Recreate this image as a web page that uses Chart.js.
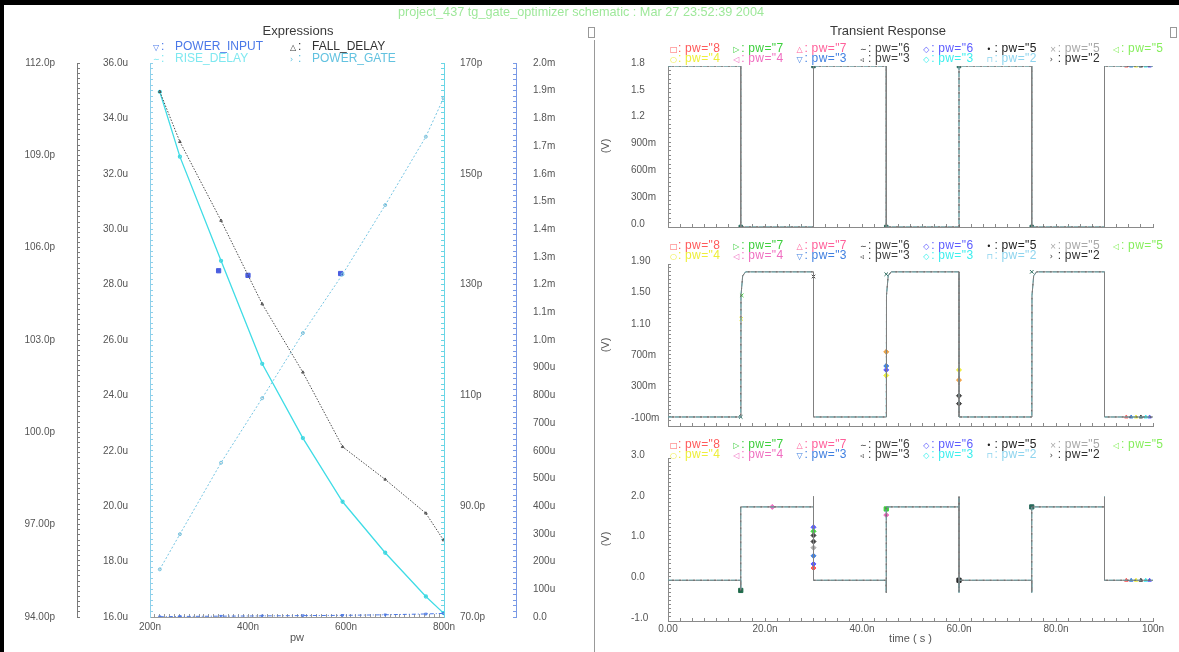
<!DOCTYPE html>
<html>
<head>
<meta charset="utf-8">
<script src="https://cdn.jsdelivr.net/npm/chart.js@4.4.1/dist/chart.umd.min.js"></script>
<style>
  body { margin: 0; width: 1179px; height: 652px; background: #fff; position: relative; overflow: hidden;
         font-family: "Liberation Sans", Arial, sans-serif; }
  canvas { position: absolute; }
  .txt { position: absolute; white-space: nowrap; }
  .ttl { font-size: 13px; color: #3a3a3a; transform: translateX(-50%); }
  .leg { position: absolute; white-space: nowrap; line-height: 12px; }
  .leg span { display: inline-block; }
  .leg .sym { font-family: "DejaVu Sans", sans-serif; font-size: 8px; letter-spacing: 0; }
  .vlab { position: absolute; font-size: 11px; color: #555; transform: translate(-50%, -50%) rotate(-90deg); }
  .bar { position: absolute; background: #000; }
  .line { position: absolute; background: #999; }
  .icon { position: absolute; width: 5px; height: 9px; border: 1px solid #999; }
</style>
</head>
<body>
<canvas id="expr" width="594" height="652" style="left:0;top:0"></canvas>
<canvas id="tranIn" width="584" height="196" style="left:595px;top:40px"></canvas>
<canvas id="tranGate" width="584" height="196" style="left:595px;top:236px"></canvas>
<canvas id="tranOut" width="584" height="220" style="left:595px;top:432px"></canvas>

<div class="bar" style="left:0;top:0;width:1179px;height:5px"></div>
<div class="bar" style="left:0;top:0;width:4px;height:652px"></div>
<div class="line" style="left:594px;top:40px;width:1px;height:612px"></div>
<div class="icon" style="left:588px;top:27px"></div>
<div class="icon" style="left:1170px;top:27px"></div>
<div class="txt" style="left:581px;top:5px;font-size:12.7px;color:#9ee89a;transform:translateX(-50%)">project_437 tg_gate_optimizer schematic : Mar 27 23:52:39 2004</div>
<div class="txt ttl" style="left:298px;top:23px">Expressions</div>
<div class="txt ttl" style="left:888px;top:23px">Transient Response</div>
<div class="vlab" style="left:605px;top:146px">(V)</div>
<div class="vlab" style="left:605px;top:345px">(V)</div>
<div class="vlab" style="left:605px;top:539px">(V)</div>

<script>
// swept pulse width (ns) and the four measured expressions
const pwNs        = [220, 261, 345, 429, 512, 593, 680, 763, 799];
const fallDelayP  = [111.07, 109.44, 106.88, 104.17, 101.95, 99.53, 98.47, 97.37, 96.50];
const riseDelayP  = [164.8, 153.1, 134.3, 115.7, 102.3, 90.8, 81.6, 73.7, 70.7];
const powerGateU  = [17.72, 18.99, 21.57, 23.90, 26.25, 28.37, 30.87, 33.34, 34.73];
const powerInputU = [1, 2, 3, 4, 5, 6, 8, 11, 13];
// cursor readouts: [pw ns, value] on rise, fall and gate traces
const riseCursor = [[340, 132.5]];
const fallCursor = [[400, 105.1]];
const gateCursor = [[589, 28.4]];

// transient waveforms, time in ns and volts
const inTime    = [0, 15, 15, 30, 30, 45, 45, 60, 60, 75, 75, 90, 90, 100];
const inVolts   = [1.8, 1.8, 0, 0, 1.8, 1.8, 0, 0, 1.8, 1.8, 0, 0, 1.8, 1.8];
const gateTime  = [0, 15, 15.05, 15.4, 16, 30, 30, 45, 45.05, 45.4, 46, 60, 60, 75, 75.05, 75.4, 76, 90, 90, 100];
const gateVolts = [-0.05, -0.05, 1.5, 1.75, 1.8, 1.8, -0.05, -0.05, 1.5, 1.75, 1.8, 1.8, -0.05, -0.05, 1.5, 1.75, 1.8, 1.8, -0.05, -0.05];
const outTime   = [0, 15, 15, 15, 30, 30, 30, 45, 45, 45, 60, 60, 60, 60, 75, 75, 75, 90, 90, 90, 100];
const outVolts  = [0, 0, -0.25, 1.8, 1.8, 2.05, 0, 0, -0.3, 1.8, 1.8, 2.05, -0.3, 0, 0, -0.3, 1.8, 1.8, 2.05, 0, 0];

// symbol samples drawn on the waveforms: [ns, V]
const inEdgeMarks   = [[15, 0], [30, 1.8], [45, 0], [60, 1.8], [75, 0]];
const inEndMarks    = [[94.5, 1.8], [95.5, 1.8], [96.5, 1.8], [97.5, 1.8], [98.5, 1.8], [99.3, 1.8]];
const gateEdgeMarks = [[15, -0.05], [30, 1.74], [45, 1.77], [75, 1.8], [15.1, 1.2], [15.2, 1.5]];
const gateMidMarks  = [[45, 0.78], [45, 0.6], [45, 0.55], [45, 0.48], [60, 0.55], [60, 0.42], [60, 0.22], [60, 0.12]];
const gateEndMarks  = [[94.5, -0.05], [95.5, -0.05], [96.5, -0.05], [97.5, -0.05], [98.5, -0.05], [99.3, -0.05]];
const outEdgeMarks  = [[15, -0.25], [45, 1.75], [60, 0], [75, 1.8]];
const outMidMarks   = [[21.5, 1.8], [30, 1.3], [30, 1.2], [30, 1.1], [30, 0.95], [30, 0.8], [30, 0.6], [30, 0.4], [30, 0.3], [45, 1.6]];
const outEndMarks   = [[94.5, 0], [95.5, 0], [96.5, 0], [97.5, 0], [98.5, 0], [99.3, 0]];

// legend texts
const exprNames = ['POWER_INPUT', 'FALL_DELAY', 'RISE_DELAY', 'POWER_GATE'];
const exprSyms  = ['▽', '△', '∼', '›'];
const pwNames   = ['pw="8', 'pw="7', 'pw="7', 'pw="6', 'pw="6', 'pw="5', 'pw="5', 'pw="5',
                   'pw="4', 'pw="4', 'pw="3', 'pw="3', 'pw="3', 'pw="2', 'pw="2'];
const pwSyms    = ['□', '▷', '△', '∼', '◇', '•', '×', '◁', '○', '◁', '▽', '◃', '◇', '⊓', '›'];

const exprColors = ['#4a78e8', '#333333', '#7fe8f0', '#62c2e0'];
const pwColors = ['#ff5a5a', '#3ccf3c', '#ff5f9a', '#404040', '#5c5cff', '#202020', '#a8a8a8', '#86ee5c',
                  '#eeee3a', '#f06cc0', '#3f7fe0', '#404040', '#3ceeee', '#8ed4ee', '#303030'];

function addLegend(x, yc, sym, text, color, size, symW, colonW, spacing) {
  const d = document.createElement('div');
  d.className = 'leg';
  d.style.left = x + 'px';
  d.style.top = (yc - 6) + 'px';
  d.style.color = color;
  d.style.fontSize = size + 'px';
  d.style.letterSpacing = spacing + 'px';
  const s = document.createElement('span');
  s.className = 'sym';
  s.style.width = symW + 'px';
  s.textContent = sym;
  const c = document.createElement('span');
  c.style.width = colonW + 'px';
  c.textContent = ':';
  d.appendChild(s);
  d.appendChild(c);
  d.appendChild(document.createTextNode(text));
  document.body.appendChild(d);
}
exprNames.forEach((n, i) => addLegend(i % 2 ? 290 : 153, i < 2 ? 46 : 58, exprSyms[i], n, exprColors[i], 12, 8, 14, 0));
[48, 245, 444].forEach(y0 => {
  pwNames.forEach((n, i) => {
    const col = i < 8 ? i : i - 8;
    addLegend(670 + col * 63.3, i < 8 ? y0 : y0 + 10, pwSyms[i], n, pwColors[i], 12, 8, 7, 0.4);
  });
});

Chart.defaults.font.family = '"Liberation Sans", Arial, sans-serif';
Chart.defaults.font.size = 10;
Chart.defaults.color = '#555';
Chart.defaults.animation = false;
Chart.defaults.plugins.legend.display = false;
Chart.defaults.plugins.tooltip.enabled = false;
Chart.defaults.elements.point.radius = 0;

const pts = (xs, ys) => xs.map((x, i) => ({ x, y: ys[i] }));
const pairs = arr => arr.map(([x, y]) => ({ x, y }));
const r3 = v => Math.round(v * 1000) / 1000;

// major ticks every `step`, `sub` small ticks in between
function ladder(from, to, step, sub) {
  const out = [];
  const n = Math.round((to - from) / step) * sub;
  for (let i = 0; i <= n; i++) out.push({ value: from + i * step / sub, major: i % sub === 0 });
  return out;
}

function axis(o) {
  return {
    type: 'linear',
    position: o.position,
    weight: o.weight || 0,
    min: o.min,
    max: o.max,
    afterBuildTicks: s => { s.ticks = ladder(o.from ?? o.min, o.to ?? o.max, o.step, o.sub); },
    afterFit: s => { if (s.isHorizontal()) s.height = o.size; else s.width = o.size; },
    grid: { drawOnChartArea: false, tickLength: -3, color: o.color },
    border: { color: o.color, dash: o.dash || [] },
    ticks: {
      display: o.fmt !== undefined,
      autoSkip: false,
      maxRotation: 0,
      padding: o.pad || 0,
      labelOffset: o.lo || 0,
      crossAlign: o.cross || 'near',
      callback: (v, i, t) => (t[i].major && o.fmt ? o.fmt(r3(v)) : '')
    },
    title: o.title
      ? { display: true, text: o.title, font: { size: 11 }, color: '#555', padding: { top: 0, bottom: o.titlePad || 0 } }
      : { display: false }
  };
}

const fmtFall = v => (v < 100 ? v.toFixed(2) : v.toFixed(1)) + 'p';
const fmtRise = v => (v >= 100 ? v.toFixed(0) : v.toFixed(1)) + 'p';
const fmtGate = v => v.toFixed(1) + 'u';
const fmtInput = v => (v >= 1000 ? (v / 1000).toFixed(1) + 'm' : v === 0 ? '0.0' : v.toFixed(0) + 'u');
const fmtVolt = d => v => (v === 0 ? (0).toFixed(d) : Math.abs(v) >= 1 ? v.toFixed(d) : (v * 1000).toFixed(0) + 'm');

new Chart(document.getElementById('expr'), {
  type: 'line',
  data: {
    datasets: [
      { data: pts(pwNs, powerInputU), yAxisID: 'yInput', borderColor: exprColors[0], borderWidth: 1,
        borderDash: [4, 2, 1, 2], pointRadius: 1.5, pointStyle: 'triangle', rotation: 180, pointBorderColor: exprColors[0] },
      { data: pts(pwNs, fallDelayP), yAxisID: 'yFall', borderColor: '#4a4a4a', borderWidth: 1,
        borderDash: [1.5, 1.5], pointRadius: 1.5, pointStyle: 'triangle', pointBorderColor: '#4a4a4a' },
      { data: pts(pwNs, riseDelayP), yAxisID: 'yRise', borderColor: '#3fdce6', borderWidth: 1.3,
        pointRadius: 1.5, pointBorderColor: '#3fdce6' },
      { data: pts(pwNs, powerGateU), yAxisID: 'yGate', borderColor: '#74c4e2', borderWidth: 1,
        borderDash: [2, 2], pointRadius: 1.5, pointBorderColor: '#74c4e2' },
      { data: pairs(riseCursor), yAxisID: 'yRise', showLine: false, pointRadius: 3, pointStyle: 'rect',
        pointBackgroundColor: '#4a5ee0', pointBorderColor: '#4a5ee0' },
      { data: pairs(fallCursor), yAxisID: 'yFall', showLine: false, pointRadius: 3, pointStyle: 'rect',
        pointBackgroundColor: '#4a5ee0', pointBorderColor: '#4a5ee0' },
      { data: pairs(gateCursor), yAxisID: 'yGate', showLine: false, pointRadius: 3, pointStyle: 'rect',
        pointBackgroundColor: '#4a5ee0', pointBorderColor: '#4a5ee0' }
    ]
  },
  options: {
    responsive: false,
    devicePixelRatio: 1,
    layout: { padding: { left: 5, right: 18, top: 63, bottom: 7 } },
    scales: {
      x: axis({ position: 'bottom', min: 200, max: 800, step: 200, sub: 20, size: 28, pad: 7,
                color: '#9a9a9a', fmt: v => v + 'n', title: 'pw', titlePad: 0 }),
      yGate: axis({ position: 'left', weight: 0, min: 16, max: 36, step: 2, sub: 10, size: 73, pad: 25,
                    color: '#8fd0ea', dash: [1, 1], fmt: fmtGate }),
      yFall: axis({ position: 'left', weight: 1, min: 94, max: 112, step: 3, sub: 18, size: 72, pad: 25,
                    color: '#7a7a7a', dash: [1, 1], fmt: fmtFall }),
      yRise: axis({ position: 'right', weight: 0, min: 70, max: 170, step: 20, sub: 20, size: 72, pad: 19,
                    color: '#6ad6e6', dash: [1, 1], fmt: fmtRise }),
      yInput: axis({ position: 'right', weight: 1, min: 0, max: 2000, step: 100, sub: 5, size: 60, pad: 20,
                     color: '#7a9ae6', dash: [1, 1], fmt: fmtInput })
    }
  }
});

// three overlapping traces per waveform: grey solid, cyan dash, dark dash
function waveSets(t, v) {
  return [
    { data: pts(t, v), borderColor: '#808080', borderWidth: 1 },
    { data: pts(t, v), borderColor: '#38c8d4', borderWidth: 1, borderDash: [4, 3] },
    { data: pts(t, v), borderColor: '#2a2a2a', borderWidth: 1, borderDash: [2, 5], borderDashOffset: 3 }
  ];
}
function markSet(marks, colors, style, r) {
  return { data: pairs(marks), showLine: false, pointRadius: r, pointStyle: style,
           pointBackgroundColor: colors, pointBorderColor: colors, pointBorderWidth: 1 };
}

function transient(id, sets, y, withLabels) {
  const bottomPad = { tranIn: 5, tranGate: 2, tranOut: 3 }[id];
  const topPad = { tranIn: 26, tranGate: 28, tranOut: 26 }[id];
  new Chart(document.getElementById(id), {
    type: 'line',
    data: { datasets: sets },
    options: {
      responsive: false,
      devicePixelRatio: 1,
      layout: { padding: { left: 36, right: 26, top: topPad, bottom: bottomPad } },
      scales: {
        x: axis(Object.assign({ position: 'bottom', min: 0, max: 100, step: 20, sub: 8, color: '#8a8a8a' },
          withLabels
            ? { size: 28, pad: 5, title: 'time ( s )', titlePad: 3,
                fmt: v => (v === 0 ? '0.00' : v < 100 ? v.toFixed(1) + 'n' : v + 'n') }
            : { size: 4 })),
        y: axis(Object.assign({ position: 'left', size: 37, cross: 'far', lo: -3, color: '#8a8a8a' }, y))
      }
    }
  });
}

const endColors = ['#ff5a5a', '#3f7fe0', '#eeee3a', '#404040', '#3ceeee', '#5c5cff'];

transient('tranIn', [
  ...waveSets(inTime, inVolts),
  markSet(inEdgeMarks, '#2a6a5c', 'rect', 2.5),
  markSet(inEndMarks, endColors, 'triangle', 2)
], { min: 0, max: 1.8, step: 0.3, sub: 6, fmt: fmtVolt(1) }, false);

transient('tranGate', [
  ...waveSets(gateTime, gateVolts),
  markSet(gateEdgeMarks, ['#2a6a5c', '#404040', '#2a6a5c', '#2a6a5c', '#eeee3a', '#3ccf3c'], 'crossRot', 2.5),
  markSet(gateMidMarks, ['#f0a040', '#3f7fe0', '#5c5cff', '#eeee3a', '#eeee3a', '#f0a040', '#404040', '#404040'], 'rectRot', 2.5),
  markSet(gateEndMarks, endColors, 'triangle', 2)
], { min: -0.165, max: 1.9, from: -0.1, to: 1.9, step: 0.4, sub: 8, fmt: fmtVolt(2) }, false);

transient('tranOut', [
  ...waveSets(outTime, outVolts),
  markSet(outEdgeMarks, ['#1f6a4a', '#3ccf3c', '#2a2a2a', '#2a6a5c'], 'rect', 3),
  markSet(outMidMarks, ['#f06cc0', '#5c5cff', '#3ccf3c', '#404040', '#404040', '#a8a8a8', '#3f7fe0', '#5c5cff', '#ff5a5a'], 'rectRot', 2.5),
  markSet(outEndMarks, endColors, 'triangle', 2)
], { min: -1, max: 3, step: 1, sub: 10, fmt: fmtVolt(1) }, true);
</script>
</body>
</html>
